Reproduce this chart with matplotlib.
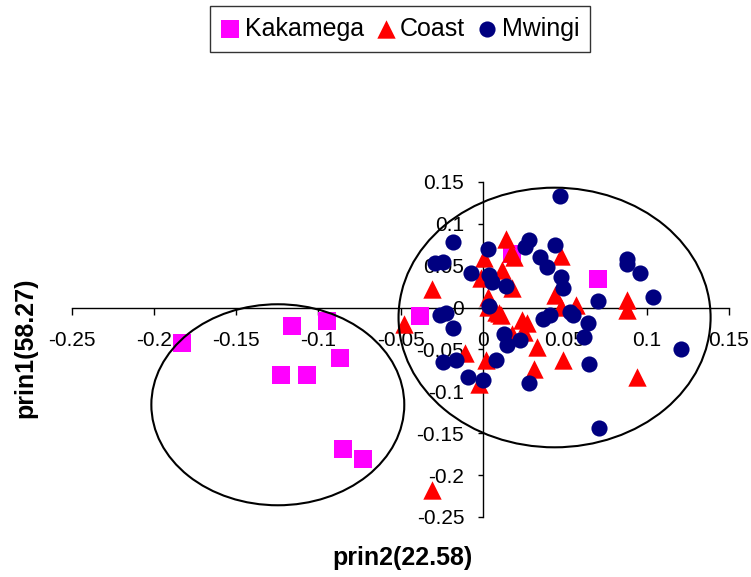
import numpy as np
import matplotlib
matplotlib.use("Agg")
import matplotlib.pyplot as plt
from matplotlib.patches import Ellipse

plt.rcParams['font.family'] = ['Liberation Sans', 'DejaVu Sans']

# prin2 (x) / prin1 (y) scores per site
kak_x = [-0.183, -0.116, -0.095, -0.087, -0.123, -0.107, -0.085, -0.073, -0.038, 0.070, 0.018]
kak_y = [-0.042, -0.022, -0.016, -0.060, -0.081, -0.081, -0.169, -0.181, -0.010, 0.034, 0.064]

coast_x = [0.014, 0.017, 0.019, 0.001, 0.048, 0.012, -0.031, 0.018, -0.001, 0.003, 0.044,
           0.048, 0.057, 0.088, 0.088, 0.008, 0.011, 0.024, 0.027, 0.025, -0.048, -0.011,
           0.002, 0.033, 0.031, 0.049, 0.094, -0.002, -0.031, 0.010, 0.003, 0.018]
coast_y = [0.082, 0.065, 0.061, 0.059, 0.062, 0.045, 0.022, 0.024, 0.035, 0.013, 0.015,
           0.001, 0.003, 0.009, -0.003, -0.005, -0.009, -0.015, -0.018, -0.029, -0.019, -0.054,
           -0.062, -0.047, -0.073, -0.063, -0.083, -0.091, -0.218, -0.007, 0.001, -0.031]

mw_x = [0.047, -0.018, -0.029, -0.024, -0.007, 0.003, 0.004, 0.006, 0.014, 0.028, 0.026,
        0.035, 0.039, 0.044, 0.048, 0.049, 0.088, 0.088, 0.096, 0.104, 0.070, 0.004,
        -0.026, -0.022, -0.018, 0.037, 0.041, 0.053, 0.055, 0.064, 0.062, 0.013, 0.015,
        0.023, 0.008, -0.024, -0.016, -0.009, 0.000, 0.028, 0.065, 0.121, 0.071]
mw_y = [0.133, 0.078, 0.053, 0.055, 0.041, 0.070, 0.039, 0.030, 0.026, 0.081, 0.072,
        0.061, 0.048, 0.075, 0.036, 0.024, 0.058, 0.052, 0.041, 0.013, 0.008, 0.002,
        -0.009, -0.007, -0.024, -0.014, -0.009, -0.005, -0.009, -0.018, -0.035, -0.032, -0.045,
        -0.039, -0.062, -0.065, -0.062, -0.083, -0.087, -0.090, -0.067, -0.049, -0.144]

xticks = [-0.25, -0.2, -0.15, -0.1, -0.05, 0, 0.05, 0.1, 0.15]
yticks = [0.15, 0.1, 0.05, 0, -0.05, -0.1, -0.15, -0.2, -0.25]

fig = plt.figure(figsize=(7.51, 5.77), dpi=100)
ax = fig.add_axes([0.0959, 0.104, 0.8748, 0.5806])

ax.scatter(kak_x, kak_y, marker='s', s=175, color='#FF00FF', linewidths=0, label='Kakamega', zorder=3)
ax.scatter(coast_x, coast_y, marker='^', s=175, color='#FF0000', linewidths=0, label='Coast', zorder=4)
ax.scatter(mw_x, mw_y, marker='o', s=135, color='#000080', linewidths=0, label='Mwingi', zorder=5)

# group ellipses
ax.add_patch(Ellipse((0.0438, -0.0118), 0.190, 0.310, fill=False, color='black', lw=1.5, zorder=6))
ax.add_patch(Ellipse((-0.1247, -0.116), 0.154, 0.240, fill=False, color='black', lw=1.5, zorder=6))

ax.set_xlim(-0.25, 0.15)
ax.set_ylim(-0.25, 0.15)
ax.spines['left'].set_position(('data', 0))
ax.spines['bottom'].set_position(('data', 0))
ax.spines['top'].set_visible(False)
ax.spines['right'].set_visible(False)
ax.spines['left'].set_linewidth(1.0)
ax.spines['bottom'].set_linewidth(1.0)

def fmt(v):
    return '0' if v == 0 else ('%g' % v)

ax.set_xticks(xticks)
ax.set_xticklabels([fmt(v) for v in xticks])
ax.set_yticks(yticks)
ax.set_yticklabels([fmt(v) for v in yticks])
ax.tick_params(labelsize=15, width=1)
ax.tick_params(axis='x', length=5, pad=12)
ax.tick_params(axis='y', length=3.3, pad=10)

fig.text(25 / 751, 1 - 348 / 577, 'prin1(58.27)', rotation=90, ha='center', va='center',
         fontsize=18, fontweight='bold')
fig.text(402 / 751, 1 - 558 / 577, 'prin2(22.58)', ha='center', va='center',
         fontsize=18, fontweight='bold')

leg = fig.legend(loc='center', bbox_to_anchor=(400 / 751, 1 - 29 / 577), ncol=3,
                 fontsize=18, frameon=True, fancybox=False, handletextpad=0.2,
                 columnspacing=0.5, borderpad=0.45, handlelength=0.75, markerscale=1.0)
leg.get_frame().set_edgecolor('black')
leg.get_frame().set_linewidth(1.0)

fig.savefig('out.png', dpi=100)
